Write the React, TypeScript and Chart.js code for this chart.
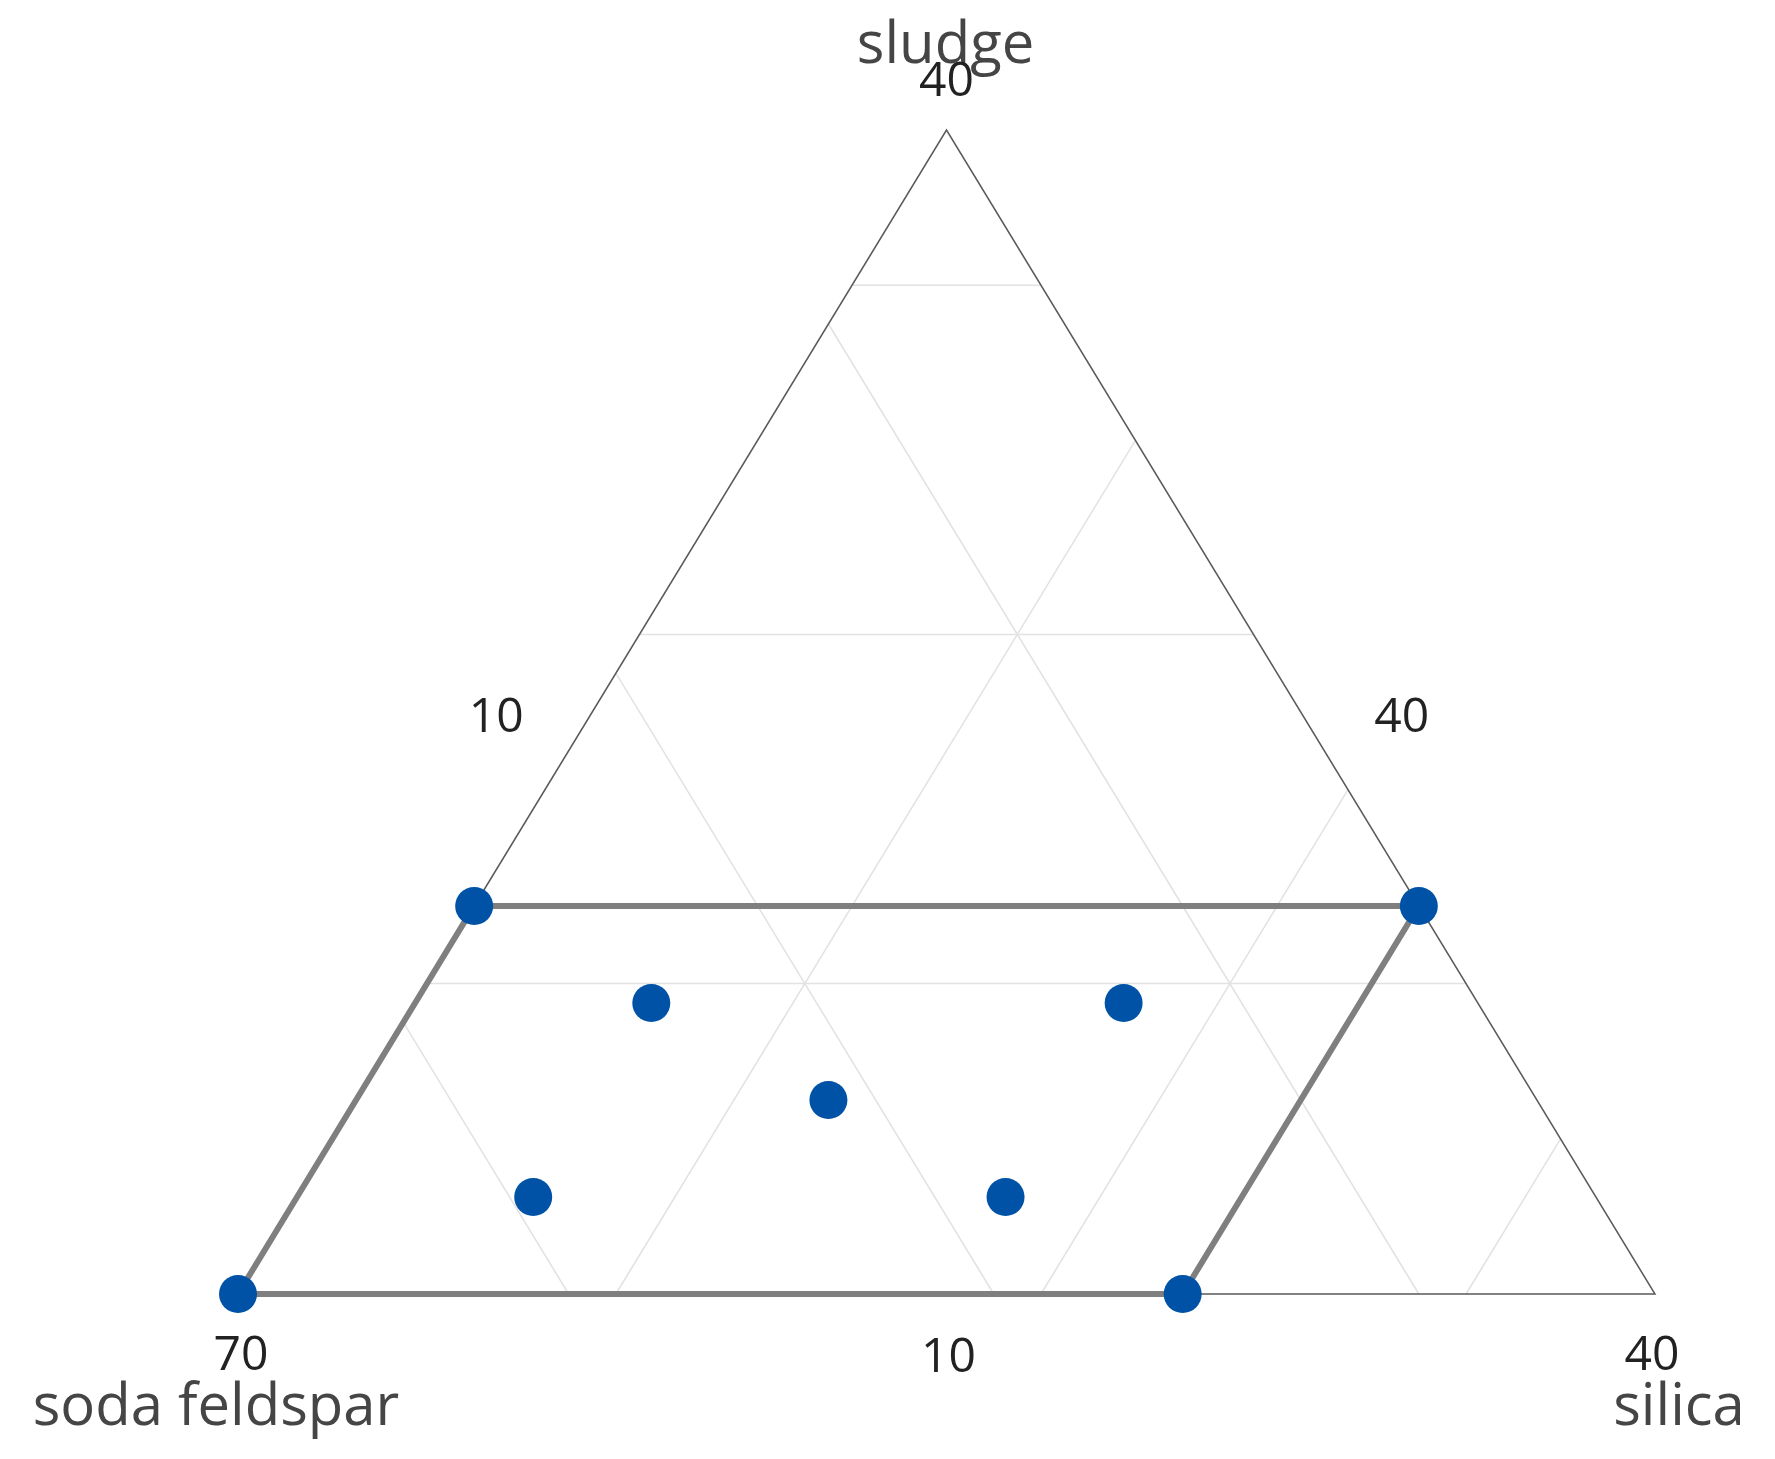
import React, { useEffect, useRef } from "react";
import { Chart, registerables } from "chart.js";

Chart.register(...registerables);

// Component ranges (real units): value = min + span * fraction
const componentNames = ["sludge", "soda feldspar", "silica"];
const componentMin = [10, 40, 10];
const componentSpan = 30;

// Design points: [sludge, soda feldspar, silica]
const sludgeValues = [20, 20, 10, 10, 17.5, 17.5, 15, 12.5, 12.5];
const feldsparValues = [60, 40, 70, 50, 57.5, 47.5, 55, 62.5, 52.5];
const silicaValues = [10, 30, 10, 30, 15, 25, 20, 15, 25];

// Constraint region (indices into the design points)
const regionOrder = [2, 0, 1, 3, 2];

// Grid values (real units)
const sludgeGrid = [18, 27, 36];
const feldsparGrid = [45, 54, 63];
const silicaGrid = [18, 27, 36];

// Tick labels
const apexTick = "40";
const leftVertexTick = "70";
const rightVertexTick = "40";
const leftEdgeTick = "10";
const rightEdgeTick = "40";
const bottomEdgeTick = "10";

type P = { x: number; y: number };

function toXY(a: number, c: number): P {
  // a: apex fraction (sludge), c: right-vertex fraction (silica)
  return { x: c + a / 2, y: a };
}
function fracA(v: number) {
  return (v - componentMin[0]) / componentSpan;
}
function fracB(v: number) {
  return (v - componentMin[1]) / componentSpan;
}
function fracC(v: number) {
  return (v - componentMin[2]) / componentSpan;
}

export default function App() {
  const ref = useRef<HTMLCanvasElement | null>(null);

  useEffect(() => {
    if (!ref.current) return;

    const pts: P[] = sludgeValues.map((s, i) =>
      toXY(fracA(s), fracC(silicaValues[i]))
    );
    const region: P[] = regionOrder.map((i) => pts[i]);
    const frame: P[] = [toXY(0, 0), toXY(1, 0), toXY(0, 1), toXY(0, 0)];

    const gridSets: P[][] = [];
    sludgeGrid.forEach((v) => {
      const a = fracA(v);
      gridSets.push([toXY(a, 0), toXY(a, 1 - a)]);
    });
    feldsparGrid.forEach((v) => {
      const b = fracB(v);
      gridSets.push([toXY(1 - b, 0), toXY(0, 1 - b)]);
    });
    silicaGrid.forEach((v) => {
      const c = fracC(v);
      gridSets.push([toXY(0, c), toXY(1 - c, c)]);
    });

    const datasets: any[] = [
      {
        label: "points",
        data: pts,
        showLine: false,
        pointRadius: 19,
        pointHoverRadius: 19,
        pointBackgroundColor: "#0052a6",
        pointBorderColor: "#0052a6",
        pointBorderWidth: 0,
        clip: false,
      },
      {
        label: "region",
        data: region,
        showLine: true,
        borderColor: "#7f7f7f",
        borderWidth: 6,
        pointRadius: 0,
        fill: false,
        clip: false,
      },
      {
        label: "frame",
        data: frame,
        showLine: true,
        borderColor: "#5a5a5a",
        borderWidth: 1.5,
        pointRadius: 0,
        fill: false,
        clip: false,
      },
      ...gridSets.map((g, i) => ({
        label: "grid" + i,
        data: g,
        showLine: true,
        borderColor: "#e2e2e2",
        borderWidth: 1.5,
        pointRadius: 0,
        fill: false,
        clip: false,
      })),
    ];

    const labelsPlugin = {
      id: "ternaryLabels",
      afterDraw(chart: any) {
        const ctx = chart.ctx;
        const xs = chart.scales.x;
        const ys = chart.scales.y;
        const px = (p: P) => ({ x: xs.getPixelForValue(p.x), y: ys.getPixelForValue(p.y) });
        const apex = px(toXY(1, 0));
        const left = px(toXY(0, 0));
        const right = px(toXY(0, 1));
        const bottomMid = px({ x: 0.5, y: 0 });
        const leftMid = px({ x: 0.25, y: 0.5 });
        const rightMid = px({ x: 0.75, y: 0.5 });

        ctx.save();
        ctx.textAlign = "center";
        ctx.textBaseline = "alphabetic";
        const num = "48px 'Open Sans', 'Noto Sans', sans-serif";
        const title = "58px 'Open Sans', 'Noto Sans', sans-serif";
        const draw = (t: string, x: number, y: number, font: string, color: string) => {
          ctx.font = font;
          ctx.fillStyle = color;
          ctx.fillText(t, x, y);
        };
        draw(componentNames[0], apex.x - 1, apex.y - 67, title, "#454545");
        draw(apexTick, apex.x, apex.y - 34, num, "#222222");
        draw(leftVertexTick, left.x + 3, left.y + 76, num, "#222222");
        draw(componentNames[1], left.x - 22, left.y + 131, title, "#454545");
        draw(rightVertexTick, right.x - 3, right.y + 76, num, "#222222");
        draw(componentNames[2], right.x + 24, right.y + 131, title, "#454545");
        draw(bottomEdgeTick, bottomMid.x + 2, bottomMid.y + 78, num, "#222222");
        draw(leftEdgeTick, leftMid.x - 96, leftMid.y + 20, num, "#222222");
        draw(rightEdgeTick, rightMid.x + 101, rightMid.y + 20, num, "#222222");
        ctx.restore();
      },
    };

    const chart = new Chart(ref.current, {
      type: "scatter",
      data: { datasets },
      options: {
        responsive: false,
        animation: false,
        events: [],
        layout: { padding: { left: 230, right: 112, top: 122, bottom: 157 } },
        plugins: { legend: { display: false }, tooltip: { enabled: false } },
        scales: {
          x: { type: "linear", min: 0, max: 1, display: false },
          y: { type: "linear", min: 0, max: 1, display: false },
        },
      },
      plugins: [labelsPlugin],
    });

    return () => chart.destroy();
  }, []);

  return (
    <div style={{ width: 1759, height: 1443, background: "#ffffff" }}>
      <canvas ref={ref} width={1759} height={1443} />
    </div>
  );
}
